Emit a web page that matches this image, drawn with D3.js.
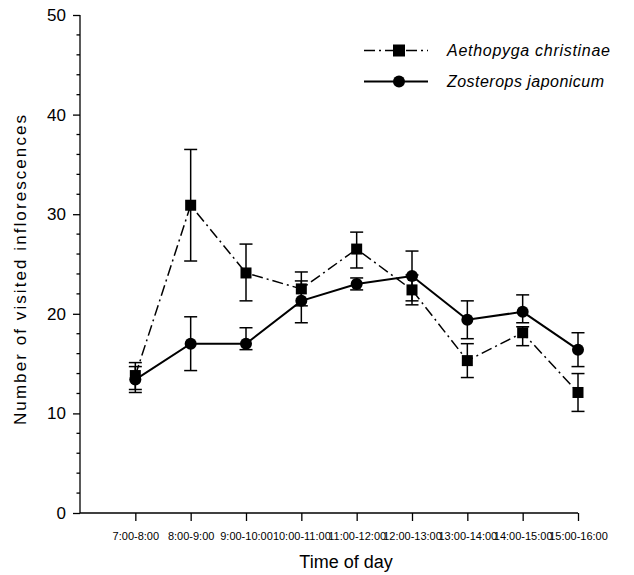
<!DOCTYPE html>
<html>
<head>
<meta charset="utf-8">
<script src="https://cdn.jsdelivr.net/npm/d3@7"></script>
<style>
  html, body { margin: 0; padding: 0; background: #fff; }
  svg { display: block; font-family: Arial, "Liberation Sans", sans-serif; }
</style>
</head>
<body>
<svg id="chart" width="634" height="575"></svg>
<script>
const categories = ["7:00-8:00", "8:00-9:00", "9:00-10:00", "10:00-11:00", "11:00-12:00", "12:00-13:00", "13:00-14:00", "14:00-15:00", "15:00-16:00"];
const aethopygaMean = [13.8, 30.9, 24.1, 22.5, 26.5, 22.4, 15.3, 18.1, 12.1];
const aethopygaLow  = [12.4, 25.3, 21.3, 20.8, 24.6, 20.9, 13.6, 16.8, 10.2];
const aethopygaHigh = [15.1, 36.5, 27.0, 24.2, 28.2, 23.9, 17.0, 18.7, 14.0];
const zosteropsMean = [13.4, 17.0, 17.0, 21.3, 23.0, 23.8, 19.4, 20.2, 16.4];
const zosteropsLow  = [12.1, 14.3, 16.4, 19.1, 22.4, 21.3, 17.5, 19.1, 14.7];
const zosteropsHigh = [14.7, 19.7, 18.6, 23.3, 23.6, 26.3, 21.3, 21.9, 18.1];
const yTicks = [0, 10, 20, 30, 40, 50];
const seriesNames = ["Aethopyga christinae", "Zosterops japonicum"];

(function () {
const svg = d3.select("#chart");
const mLeft = 80, mRight = 578, mTop = 15, mBottom = 513;

const x = d3.scaleLinear().domain([0, 9]).range([mLeft, mRight]);
const y = d3.scaleLinear().domain([0, 50]).range([mBottom, mTop]);

// Y axis
const yAxis = d3.axisLeft(y).tickValues(yTicks).tickSize(7).tickPadding(7).tickFormat(d3.format("d"));
const gy = svg.append("g").attr("transform", `translate(${mLeft},0)`).call(yAxis);
gy.select(".domain").attr("d", `M0,${mTop}V${mBottom}`).attr("stroke", "#000").attr("stroke-width", 1.3);
gy.selectAll(".tick line").attr("stroke", "#000").attr("stroke-width", 1.3);
gy.selectAll(".tick text").attr("font-size", 17).attr("fill", "#000");
const minor = d3.range(0, 51, 2).filter(v => v % 10 !== 0);
gy.selectAll(".minor").data(minor).enter().append("line")
  .attr("x1", 0).attr("x2", -3.5).attr("y1", d => y(d)).attr("y2", d => y(d))
  .attr("stroke", "#000").attr("stroke-width", 1.3);

// X axis
const xAxis = d3.axisBottom(x).tickValues(d3.range(1, 10)).tickSize(8).tickPadding(11)
  .tickFormat(d => categories[d - 1]);
const gx = svg.append("g").attr("transform", `translate(0,${mBottom})`).call(xAxis);
gx.select(".domain").attr("d", `M${mLeft},0H${mRight}`).attr("stroke", "#000").attr("stroke-width", 1.3);
gx.selectAll(".tick line").attr("stroke", "#000").attr("stroke-width", 1.3);
gx.selectAll(".tick text").attr("font-size", 11).attr("fill", "#000");

// Titles
svg.append("text").attr("x", 346).attr("y", 568).attr("text-anchor", "middle")
  .attr("font-size", 18).text("Time of day");
svg.append("text").attr("transform", "translate(26,270) rotate(-90)").attr("text-anchor", "middle")
  .attr("font-size", 17).attr("textLength", 310).attr("lengthAdjust", "spacing")
  .text("Number of visited inflorescences");

const idx = d3.range(categories.length);

function drawErr(lo, hi, cls) {
  const g = svg.append("g").attr("class", cls).attr("stroke", "#000").attr("stroke-width", 1.5);
  idx.forEach(i => {
    const cx = x(i + 1);
    g.append("line").attr("x1", cx).attr("x2", cx).attr("y1", y(lo[i])).attr("y2", y(hi[i]));
    g.append("line").attr("x1", cx - 6.5).attr("x2", cx + 6.5).attr("y1", y(lo[i])).attr("y2", y(lo[i]));
    g.append("line").attr("x1", cx - 6.5).attr("x2", cx + 6.5).attr("y1", y(hi[i])).attr("y2", y(hi[i]));
  });
}
drawErr(aethopygaLow, aethopygaHigh, "errA");
drawErr(zosteropsLow, zosteropsHigh, "errZ");

const line = d3.line().x(d => x(d[0] + 1)).y(d => y(d[1]));
svg.append("path").datum(idx.map(i => [i, aethopygaMean[i]])).attr("d", line)
  .attr("fill", "none").attr("stroke", "#000").attr("stroke-width", 1.5).attr("stroke-dasharray", "11,4,2,4");
svg.append("path").datum(idx.map(i => [i, zosteropsMean[i]])).attr("d", line)
  .attr("fill", "none").attr("stroke", "#000").attr("stroke-width", 2);

svg.append("g").selectAll("rect").data(idx).enter().append("rect")
  .attr("x", i => x(i + 1) - 5.5).attr("y", i => y(aethopygaMean[i]) - 5.5)
  .attr("width", 11).attr("height", 11).attr("fill", "#000");
svg.append("g").selectAll("circle").data(idx).enter().append("circle")
  .attr("cx", i => x(i + 1)).attr("cy", i => y(zosteropsMean[i])).attr("r", 6).attr("fill", "#000");

// Legend
const lg = svg.append("g");
const ly = [50.5, 81.5];
lg.append("line").attr("x1", 364).attr("x2", 428).attr("y1", ly[0]).attr("y2", ly[0])
  .attr("stroke", "#000").attr("stroke-width", 1.5).attr("stroke-dasharray", "11,4,2,4");
lg.append("rect").attr("x", 399 - 6).attr("y", ly[0] - 6).attr("width", 12).attr("height", 12).attr("fill", "#000");
lg.append("line").attr("x1", 364).attr("x2", 428).attr("y1", ly[1]).attr("y2", ly[1])
  .attr("stroke", "#000").attr("stroke-width", 2);
lg.append("circle").attr("cx", 399).attr("cy", ly[1]).attr("r", 6).attr("fill", "#000");
const lens = [163, 157];
seriesNames.forEach((n, i) => {
  lg.append("text").attr("x", 447).attr("y", ly[i] + 5.5).attr("font-size", 16).attr("font-style", "italic")
    .attr("textLength", lens[i]).attr("lengthAdjust", "spacing").text(n);
});
})();
</script>
</body>
</html>
